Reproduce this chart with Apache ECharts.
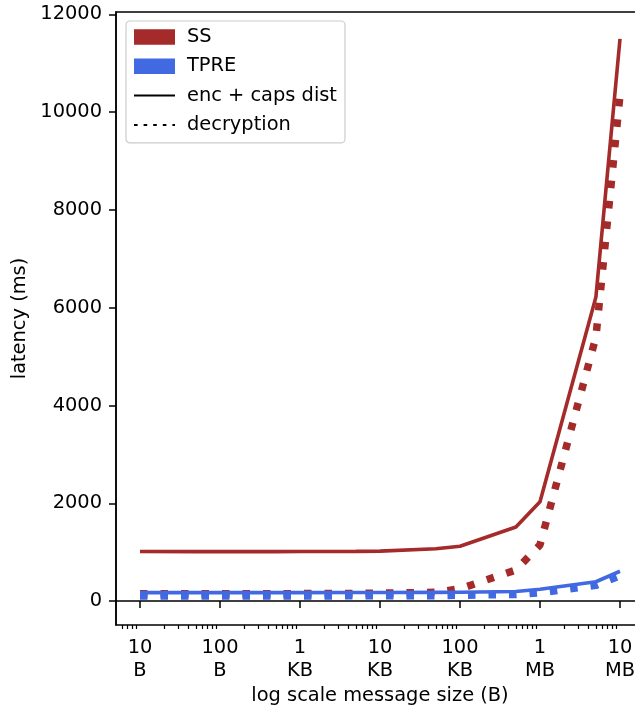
<!DOCTYPE html>
<html>
<head>
<meta charset="utf-8">
<script src="https://cdn.jsdelivr.net/npm/echarts@6/dist/echarts.min.js"></script>
<style>
  html, body { margin: 0; padding: 0; background: #fff; }
  #chart { width: 635px; height: 710px; }
</style>
</head>
<body>
<div id="chart"></div>
<script>
// message sizes in bytes
const sizes = [10, 50, 100, 500, 1e3, 5e3, 1e4, 5e4, 1e5, 5e5, 1e6, 5e6, 1e7];
// latency in ms
const ssEnc   = [1015, 1010, 1010, 1012, 1014, 1016, 1022, 1070, 1120, 1515, 2030, 6220, 11500];
const ssDec   = [150, 150, 150, 150, 152, 155, 160, 180, 250, 635, 1150, 5400, 10350];
const tpreEnc = [172, 172, 172, 173, 173, 174, 175, 178, 180, 195, 240, 395, 610];
const tpreDec = [105, 105, 105, 105, 105, 106, 108, 110, 118, 135, 170, 320, 520];

const xTicks = [10, 100, 1e3, 1e4, 1e5, 1e6, 1e7];
const xTickLabels = ['10\nB', '100\nB', '1\nKB', '10\nKB', '100\nKB', '1\nMB', '10\nMB'];
const yTicks = [0, 2000, 4000, 6000, 8000, 10000, 12000];

const RED = '#A52A2A';
const BLUE = '#4169E1';
const FONT = 'DejaVu Sans';
const FS = 19.4;

// minor ticks of the log axis (2..9 x 10^k)
const minorTicks = [];
for (let k = 0; k <= 7; k++) {
  for (let m = 2; m <= 9; m++) minorTicks.push(m * Math.pow(10, k));
}

const xMin = Math.pow(10, 0.7), xMax = Math.pow(10, 7.3);

function pairs(ys) {
  return sizes.map((s, i) => [s, ys[i]]);
}

const chart = echarts.init(document.getElementById('chart'), null, { renderer: 'canvas' });

const hideSymbol = { opacity: 0 };

const option = {
  animation: false,
  backgroundColor: '#ffffff',
  textStyle: { fontFamily: FONT },
  grid: {
    left: 116, top: 12, height: 613, width: 528,
    outerBoundsMode: 'none', containLabel: false,
    show: true, borderColor: '#000', borderWidth: 1.5, backgroundColor: 'transparent'
  },
  legend: {
    left: 126, top: 21,
    orient: 'vertical',
    padding: [6, 8, 8, 7],
    itemWidth: 41, itemHeight: 15.5, itemGap: 9.3,
    backgroundColor: 'rgba(255,255,255,0.8)',
    borderColor: '#cccccc', borderWidth: 1.2, borderRadius: 4,
    textStyle: { fontFamily: FONT, fontSize: FS, color: '#000', lineHeight: 20, padding: [0, 0, 0, 7] },
    data: [
      { name: 'SS', icon: 'rect' },
      { name: 'TPRE', icon: 'rect' },
      { name: 'enc + caps dist', itemStyle: hideSymbol },
      { name: 'decryption', itemStyle: hideSymbol }
    ]
  },
  xAxis: [{
    type: 'log', logBase: 10, min: xMin, max: xMax,
    name: 'log scale message size (B)', nameLocation: 'middle', nameGap: 59,
    nameTextStyle: { fontFamily: FONT, fontSize: FS, color: '#000' },
    axisLine: { lineStyle: { color: '#000', width: 1.5 } },
    axisTick: { customValues: xTicks, length: 7, lineStyle: { color: '#000', width: 1.5 } },
    axisLabel: {
      customValues: xTicks, margin: 11,
      fontFamily: FONT, fontSize: FS, color: '#000', lineHeight: 23,
      formatter: v => {
        const i = xTicks.findIndex(t => Math.abs(Math.log10(t) - Math.log10(v)) < 1e-6);
        return i >= 0 ? xTickLabels[i] : '';
      }
    },
    splitLine: { show: false }, minorTick: { show: false }
  }, {
    type: 'log', logBase: 10, min: xMin, max: xMax, position: 'bottom',
    axisLine: { show: false },
    axisTick: { customValues: minorTicks, length: 4, lineStyle: { color: '#000', width: 1.2 } },
    axisLabel: { show: false },
    splitLine: { show: false }
  }],
  yAxis: {
    type: 'value', min: -490, max: 12050,
    name: 'latency (ms)', nameLocation: 'middle', nameGap: 86,
    nameTextStyle: { fontFamily: FONT, fontSize: FS, color: '#000' },
    axisLine: { show: true, lineStyle: { color: '#000', width: 1.5 } },
    axisTick: { show: true, customValues: yTicks, length: 7, lineStyle: { color: '#000', width: 1.5 } },
    axisLabel: {
      customValues: yTicks, margin: 14, fontFamily: FONT, fontSize: FS, color: '#000',
      formatter: v => String(v)
    },
    splitLine: { show: false }
  },
  series: [
    // legend-only entries
    { name: 'SS', type: 'line', data: [], color: RED, itemStyle: { color: RED } },
    { name: 'TPRE', type: 'line', data: [], color: BLUE, itemStyle: { color: BLUE } },
    { name: 'enc + caps dist', type: 'line', data: [], symbol: 'none', color: '#000',
      lineStyle: { color: '#000', width: 3.6 } },
    { name: 'decryption', type: 'line', data: [], symbol: 'none', color: '#000',
      lineStyle: { color: '#000', width: 3.6, type: [3.6, 6] } },
    // data
    { name: 'SS dec', type: 'line', data: pairs(ssDec), symbol: 'none',
      lineStyle: { color: RED, width: 7.5, type: [7.5, 13], cap: 'butt' } },
    { name: 'SS enc', type: 'line', data: pairs(ssEnc), symbol: 'none',
      lineStyle: { color: RED, width: 3.6 } },
    { name: 'TPRE dec', type: 'line', data: pairs(tpreDec), symbol: 'none',
      lineStyle: { color: BLUE, width: 7.5, type: [7.5, 13], cap: 'butt' } },
    { name: 'TPRE enc', type: 'line', data: pairs(tpreEnc), symbol: 'none',
      lineStyle: { color: BLUE, width: 3.6 } }
  ]
};

chart.setOption(option);
</script>
</body>
</html>
